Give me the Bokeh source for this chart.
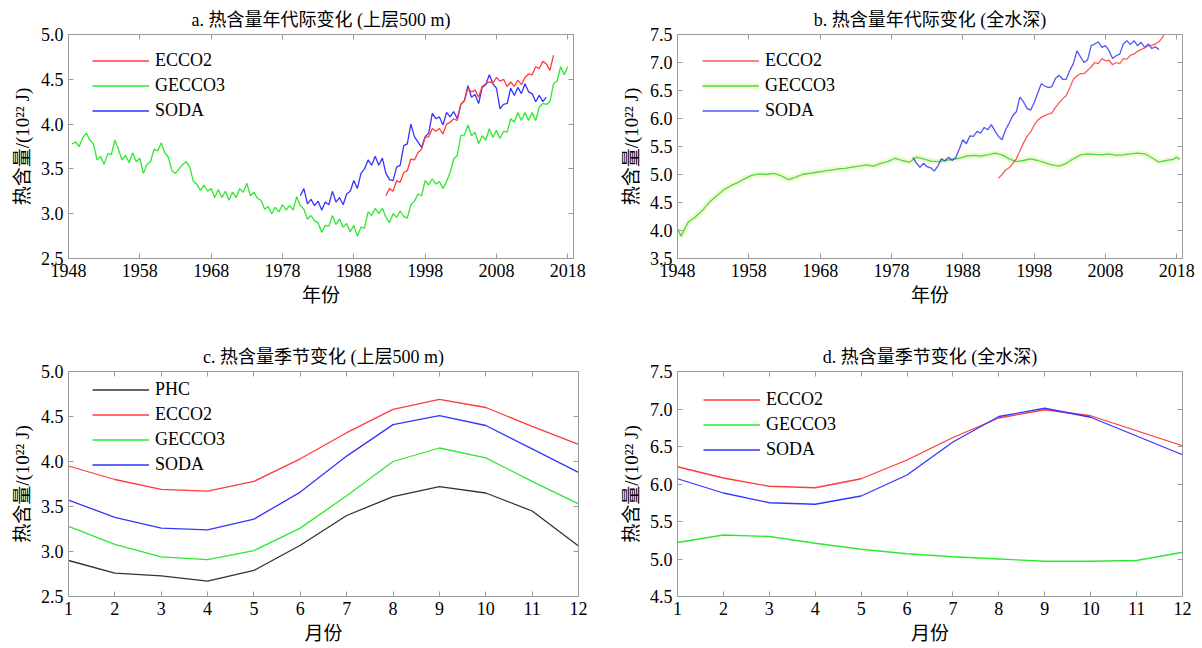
import numpy as np
from bokeh.plotting import figure
from bokeh.layouts import column, row
from bokeh.models import (FixedTicker, PrintfTickFormatter, LinearAxis, Legend,
                          LegendItem, Range1d)
from bokeh.embed import file_html
from bokeh.resources import INLINE

# ---------------- data ----------------
# Panel a: upper 500 m, decadal (semi-annual samples)
gecco3_a_t = np.arange(1948.5, 2018.01, 0.5)
gecco3_a = [3.78,
    3.80, 3.75, 3.85, 3.90, 3.82, 3.78, 3.60, 3.64, 3.55, 3.67,
    3.66, 3.82, 3.72, 3.60, 3.65, 3.57, 3.68, 3.58, 3.62, 3.45,
    3.55, 3.58, 3.72, 3.70, 3.79, 3.68, 3.63, 3.48, 3.45, 3.50,
    3.55, 3.58, 3.52, 3.36, 3.33, 3.26, 3.32, 3.25, 3.28, 3.18,
    3.27, 3.18, 3.25, 3.15, 3.24, 3.18, 3.28, 3.24, 3.34, 3.20,
    3.24, 3.17, 3.15, 3.05, 3.08, 3.00, 3.07, 3.02, 3.10, 3.04,
    3.09, 3.04, 3.19, 3.09, 3.05, 2.94, 2.98, 2.92, 2.90, 2.79,
    2.87, 2.86, 2.98, 2.88, 2.94, 2.85, 2.89, 2.80, 2.87, 2.75,
    2.85, 2.84, 3.02, 2.98, 3.06, 3.00, 3.06, 2.96, 2.90, 3.00,
    2.96, 3.03, 2.97, 2.95, 3.10, 3.14, 3.22, 3.20, 3.37, 3.32,
    3.39, 3.33, 3.36, 3.28, 3.36, 3.46, 3.61, 3.65, 3.87, 3.88,
    3.99, 3.87, 3.91, 3.78, 3.87, 3.82, 3.95, 3.85, 3.93, 3.84,
    3.92, 3.91, 4.06, 4.02, 4.13, 4.04, 4.13, 4.04, 4.13, 4.04,
    4.19, 4.23, 4.22, 4.25, 4.45, 4.48, 4.64, 4.55,
    4.64]
soda_a_t = np.arange(1980.5, 2015.01, 0.5)
soda_a = [3.20,
    3.28, 3.11, 3.16, 3.09, 3.14, 3.04, 3.13, 3.10, 3.25, 3.13,
    3.18, 3.10, 3.22, 3.25, 3.37, 3.28, 3.45, 3.50, 3.60, 3.54,
    3.64, 3.54, 3.62, 3.45, 3.38, 3.37, 3.52, 3.54, 3.76, 3.78,
    4.00, 3.86, 3.80, 3.74, 3.86, 3.90, 4.12, 4.06, 4.08, 3.99,
    4.13, 4.08, 4.14, 4.06, 4.22, 4.26, 4.43, 4.30, 4.33, 4.23,
    4.41, 4.44, 4.55, 4.45, 4.40, 4.17, 4.22, 4.23, 4.40, 4.32,
    4.41, 4.34, 4.45, 4.36, 4.34, 4.25, 4.32, 4.25,
    4.30]
ecco2_a_t = np.arange(1992.5, 2016.01, 0.5)
ecco2_a = [3.20,
    3.28, 3.25, 3.37, 3.35, 3.46, 3.48, 3.61, 3.60, 3.68, 3.72,
    3.85, 3.86, 3.95, 3.92, 3.95, 3.89, 4.00, 4.02, 4.06, 4.04,
    4.22, 4.26, 4.40, 4.36, 4.38, 4.30, 4.42, 4.45, 4.47, 4.46,
    4.52, 4.48, 4.50, 4.42, 4.47, 4.42, 4.49, 4.44, 4.52, 4.56,
    4.55, 4.64, 4.62, 4.70, 4.67, 4.60,
    4.77]

# Panel b: full depth, decadal
gecco3_b_t = [1948.0] + list(np.arange(1948.5, 2017.51, 1.0)) + [2018.0, 2018.4]
gecco3_b = [4.03,
    3.90, 4.15, 4.24, 4.36, 4.51, 4.62, 4.73, 4.80, 4.86, 4.93,
    4.99, 5.01, 5.00, 5.02, 4.98, 4.91, 4.95, 5.00, 5.02, 5.04,
    5.06, 5.08, 5.10, 5.11, 5.13, 5.15, 5.17, 5.15, 5.20, 5.23,
    5.29, 5.25, 5.22, 5.31, 5.28, 5.24, 5.23, 5.25, 5.27, 5.29,
    5.33, 5.34, 5.33, 5.35, 5.38, 5.35, 5.28, 5.23, 5.25, 5.28,
    5.25, 5.21, 5.17, 5.15, 5.20, 5.28, 5.35, 5.37, 5.36, 5.35,
    5.37, 5.34, 5.35, 5.37, 5.38, 5.37, 5.30, 5.22, 5.25, 5.27,
    5.31, 5.27]
soda_b_t = np.arange(1981.0, 2015.51, 0.5)
soda_b = [
    5.30, 5.20, 5.13, 5.20, 5.14, 5.12, 5.06, 5.15, 5.28, 5.24,
    5.31, 5.25, 5.30, 5.45, 5.62, 5.55, 5.69, 5.68, 5.77, 5.74,
    5.84, 5.80, 5.89, 5.78, 5.68, 5.62, 5.80, 5.92, 6.05, 6.12,
    6.38, 6.30, 6.18, 6.15, 6.28, 6.45, 6.62, 6.58, 6.55, 6.57,
    6.72, 6.77, 6.70, 6.70, 6.86, 6.98, 7.21, 7.10, 7.00, 7.05,
    7.30, 7.33, 7.37, 7.27, 7.30, 7.21, 7.07, 7.12, 7.15, 7.33,
    7.39, 7.32, 7.39, 7.30, 7.36, 7.27, 7.33, 7.25, 7.28, 7.23]
ecco2_b_t = np.arange(1993.0, 2016.51, 0.5)
ecco2_b = [
    4.93, 5.00, 5.08, 5.12, 5.20, 5.28, 5.42, 5.56, 5.68, 5.76,
    5.88, 5.97, 6.02, 6.05, 6.08, 6.10, 6.20, 6.28, 6.35, 6.41,
    6.55, 6.70, 6.76, 6.80, 6.80, 6.86, 6.92, 7.00, 6.98, 7.07,
    7.03, 7.04, 6.96, 7.00, 6.98, 7.07, 7.06, 7.13, 7.15, 7.20,
    7.23, 7.26, 7.30, 7.31, 7.33, 7.37, 7.45, 7.58]

# Panels c, d: seasonal cycle
months = [1, 2, 3, 4, 5, 6, 7, 8, 9, 10, 11, 12]
phc_c = [2.90, 2.76, 2.73, 2.67, 2.79, 3.07, 3.40, 3.61, 3.72, 3.65, 3.45, 3.06]
ecco2_c = [3.95, 3.80, 3.69, 3.67, 3.78, 4.03, 4.32, 4.58, 4.69, 4.60, 4.39, 4.19]
gecco3_c = [3.28, 3.08, 2.94, 2.91, 3.01, 3.26, 3.62, 4.00, 4.15, 4.04, 3.78, 3.53]
soda_c = [3.57, 3.38, 3.26, 3.24, 3.36, 3.66, 4.06, 4.41, 4.51, 4.40, 4.14, 3.88]
ecco2_d = [6.23, 6.08, 5.97, 5.95, 6.07, 6.32, 6.62, 6.88, 6.99, 6.91, 6.71, 6.51]
gecco3_d = [5.22, 5.32, 5.30, 5.21, 5.13, 5.07, 5.03, 5.00, 4.97, 4.97, 4.98, 5.09]
soda_d = [6.07, 5.88, 5.75, 5.73, 5.84, 6.12, 6.56, 6.90, 7.01, 6.89, 6.64, 6.39]

year_ticks = [1948, 1958, 1968, 1978, 1988, 1998, 2008, 2018]
ticks_a = [2.5, 3.0, 3.5, 4.0, 4.5, 5.0]
ticks_b = [3.5, 4.0, 4.5, 5.0, 5.5, 6.0, 6.5, 7.0, 7.5]
ticks_d = [4.5, 5.0, 5.5, 6.0, 6.5, 7.0, 7.5]

assert len(gecco3_a) == len(gecco3_a_t)
assert len(soda_a) == len(soda_a_t)
assert len(ecco2_a) == len(ecco2_a_t)
assert len(gecco3_b) == len(gecco3_b_t)
assert len(soda_b) == len(soda_b_t)
assert len(ecco2_b) == len(ecco2_b_t)

# ---------------- style ----------------
FONT = "'Liberation Serif', 'Noto Sans CJK SC', serif"
GRAY = "#9c9c9c"
RED = "#ff3b3b"
GREEN = "#2ee82e"
GREEN_B = "#4ed84e"
BLUE = "#3535ff"
BLACK = "#333333"
YLAB = "热含量/(10²² J)"


def style_axis(ax, hidden=False):
    ax.axis_line_color = GRAY
    ax.major_tick_line_color = GRAY
    ax.major_tick_in = 5
    ax.major_tick_out = 0
    ax.minor_tick_line_color = None
    ax.major_label_text_font = FONT
    ax.axis_label_text_font = FONT
    ax.axis_label_text_font_size = "19px"
    ax.axis_label_text_font_style = "normal"
    ax.axis_label_text_color = "black"
    if hidden:
        ax.major_label_text_font_size = "1px"
        ax.major_label_text_color = None
        ax.major_label_standoff = 0
    else:
        ax.major_label_text_color = "black"
        ax.major_label_text_font_size = "18px"
        ax.major_label_standoff = 5
        ax.axis_label_standoff = 5


def make_fig(w, h, bl, br, bt, bb, title, xr, yr, xt, yt, xlabel, xfmt):
    p = figure(width=w, height=h, min_border_left=bl, min_border_right=br,
               min_border_top=bt, min_border_bottom=bb,
               x_range=Range1d(*xr), y_range=Range1d(*yr),
               output_backend="svg", toolbar_location=None, title=title)
    p.title.text_font = FONT
    p.title.text_font_size = "18px"
    p.title.text_font_style = "normal"
    p.title.align = "center"
    p.title.text_color = "black"
    p.grid.visible = False
    p.outline_line_color = GRAY
    p.background_fill_color = "white"
    p.border_fill_color = "white"
    p.xaxis.ticker = FixedTicker(ticks=xt)
    p.yaxis.ticker = FixedTicker(ticks=yt)
    p.yaxis.formatter = PrintfTickFormatter(format="%.1f")
    p.xaxis.formatter = PrintfTickFormatter(format=xfmt)
    p.xaxis.axis_label = xlabel
    p.yaxis.axis_label = YLAB
    style_axis(p.xaxis[0])
    style_axis(p.yaxis[0])
    top = LinearAxis(ticker=FixedTicker(ticks=xt))
    right = LinearAxis(ticker=FixedTicker(ticks=yt))
    style_axis(top, hidden=True)
    style_axis(right, hidden=True)
    p.add_layout(top, "above")
    p.add_layout(right, "right")
    return p


def add_legend(p, items, x, y):
    lg = Legend(items=[LegendItem(label=l, renderers=r) for l, r in items],
                location=(x, y), orientation="vertical")
    lg.border_line_color = None
    lg.background_fill_alpha = 0
    lg.padding = 0
    lg.margin = 0
    lg.spacing = 0
    lg.glyph_width = 57
    lg.glyph_height = 25
    lg.label_height = 25
    lg.label_standoff = 6
    lg.label_text_font = FONT
    lg.label_text_font_size = "18px"
    lg.label_text_color = "black"
    p.add_layout(lg)


LW = 1.3

# Panel a
pa = make_fig(604, 330, 68, 31, 34, 72, "a. 热含量年代际变化 (上层500 m)",
              (1948, 2018.8), (2.5, 5.0), year_ticks, ticks_a, "年份", "%d")
ga = pa.line(gecco3_a_t, gecco3_a, line_color=GREEN, line_width=LW)
sa = pa.line(soda_a_t, soda_a, line_color=BLUE, line_width=LW)
ea = pa.line(ecco2_a_t, ecco2_a, line_color=RED, line_width=LW)
add_legend(pa, [("ECCO2", [ea]), ("GECCO3", [ga]), ("SODA", [sa])], 24, 135)

# Panel b
pb = make_fig(598, 330, 73, 20, 34, 72, "b. 热含量年代际变化 (全水深)",
              (1948, 2018.8), (3.5, 7.5), year_ticks, ticks_b, "年份", "%d")
gb_halo = pb.line(gecco3_b_t, gecco3_b, line_color="#eef7c4", line_width=6, line_alpha=0.8)
gb = pb.line(gecco3_b_t, gecco3_b, line_color=GREEN_B, line_width=LW)
sb = pb.line(soda_b_t, soda_b, line_color=BLUE, line_width=LW, line_alpha=0.85)
eb = pb.line(ecco2_b_t, ecco2_b, line_color=RED, line_width=LW, line_alpha=0.85)
add_legend(pb, [("ECCO2", [eb]), ("GECCO3", [gb_halo, gb]), ("SODA", [sb])], 25, 135)

# Panel c
pc = make_fig(604, 318, 68, 26, 41, 52, "c. 热含量季节变化 (上层500 m)",
              (1, 12), (2.5, 5.0), months, ticks_a, "月份", "%d")
pcl = pc.line(months, phc_c, line_color=BLACK, line_width=LW)
ecl = pc.line(months, ecco2_c, line_color=RED, line_width=LW)
gcl = pc.line(months, gecco3_c, line_color=GREEN, line_width=LW)
scl = pc.line(months, soda_c, line_color=BLUE, line_width=LW)
add_legend(pc, [("PHC", [pcl]), ("ECCO2", [ecl]), ("GECCO3", [gcl]), ("SODA", [scl])], 24, 119)

# Panel d
pd_ = make_fig(598, 318, 73, 20, 41, 52, "d. 热含量季节变化 (全水深)",
               (1, 12), (4.5, 7.5), months, ticks_d, "月份", "%d")
edl = pd_.line(months, ecco2_d, line_color=RED, line_width=LW)
gdl = pd_.line(months, gecco3_d, line_color=GREEN, line_width=LW)
sdl = pd_.line(months, soda_d, line_color=BLUE, line_width=LW)
add_legend(pd_, [("ECCO2", [edl]), ("GECCO3", [gdl]), ("SODA", [sdl])], 26, 134)

layout = column(row(pa, pb), row(pc, pd_))
open("out.html", "w").write(file_html(layout, INLINE))
